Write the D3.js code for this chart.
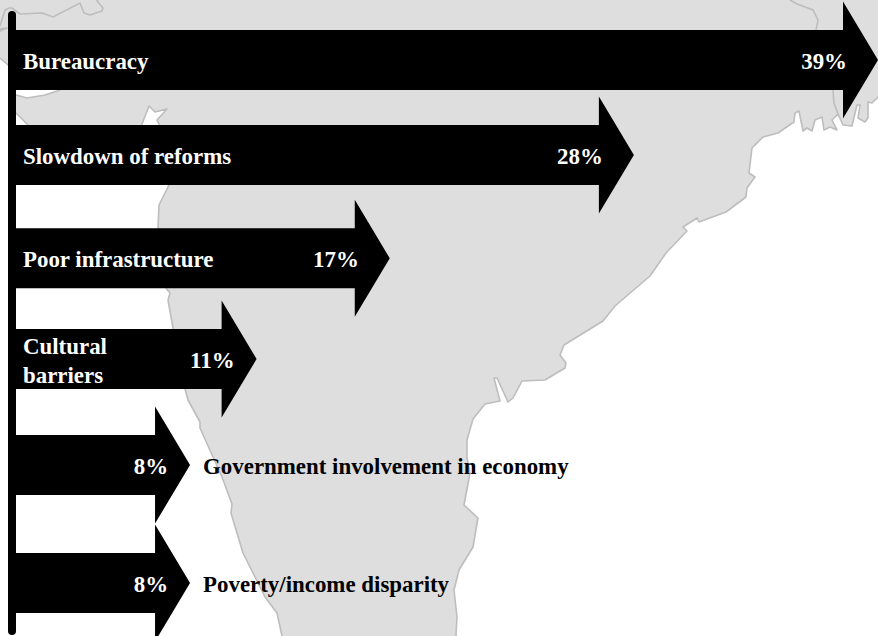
<!DOCTYPE html>
<html>
<head>
<meta charset="utf-8">
<script src="https://cdn.jsdelivr.net/npm/d3@7/dist/d3.min.js"></script>
<style>
  html, body { margin: 0; padding: 0; background: #fff; }
  svg { display: block; }
  text { font-family: "Liberation Serif", serif; font-weight: 700; font-size: 22.9px; }
</style>
</head>
<body>
<svg id="chart" width="878" height="636"></svg>
<script>
// Survey shares, largest first
const categories = [
  "Bureaucracy",
  "Slowdown of reforms",
  "Poor infrastructure",
  "Cultural barriers",
  "Government involvement in economy",
  "Poverty/income disparity"
];
const values = [39, 28, 17, 11, 8, 8];
const categoryLines = [
  ["Bureaucracy"],
  ["Slowdown of reforms"],
  ["Poor infrastructure"],
  ["Cultural", "barriers"],
  ["Government involvement in economy"],
  ["Poverty/income disparity"]
];

// Backdrop map of the subcontinent, outline in page units
const landOutline = [
  [-5,-5],[-5,30],[7,28],[-5,33.5],[-5,56],[0,58],[8,65],[30,80],[60,90],[45,95],[27,98],[16,95],
  [12,100],[12,108],[16,113],[29,126],[45,150],[100,175],[135,150],[142,124],[149,106],[155,112],
  [167,109],[157,120],[160,126],[165,150],[169,185],[159,205],[158,228],[166,288],[170,293],[168,300],
  [173,328],[185,389],[188,400],[200,422],[200,428],[222,477],[232,504],[231,513],[243,553],[265,597],
  [277,613],[282,636],[282,645],[456,645],[456,635],[457,617],[454,590],[459,570],[473,547],[478,518],
  [464,505],[470,473],[467,458],[467,440],[473,419],[485,404],[500,401],[494,378],[497,378],[508,402],
  [513,398],[522,381],[545,380],[565,368],[566,363],[560,355],[564,345],[603,321],[615,306],[650,276],
  [666,253],[687,231],[683,227],[697,218],[699,222],[726,212],[746,197],[747,188],[755,177],[749,173],
  [752,148],[763,137],[778,133],[794,122],[795,113],[799,111],[803,131],[807,128],[812,131],[815,120],
  [822,117],[824,130],[830,127],[837,130],[832,120],[838,114],[843,125],[852,126],[857,105],[860,105],
  [858,118],[865,122],[868,118],[868,102],[872,103],[878,97],[885,92],[885,-5]
];
const borderWest = [
  [0,26],[5,10],[9,8],[12,8],[20,14],[42,13],[53,17],[80,3],[84,13],[90,15],[102,11],[103,8],[97,1],[100,-3]
];
const borderEast = [
  [790,0],[797,4],[813,10],[818,20],[816,30],[833,90],[834,103],[838,114]
];

const ink = "#000";
const landFill = "#dedede";
const landStroke = "#bdbdbd";

const svg = d3.select("#chart");

// Horizontal scale runs from the spine to the arrow tip
const x = d3.scaleLinear().domain([0, 39]).range([12.5, 878]);
// Rows are spaced by hand rather than evenly
const y = d3.scaleOrdinal().domain(categories).range([60, 155, 258.3, 359, 465, 583]);

const shaftHalf = 30;
const headHalf = 58.5;
const headLength = 35;

const line = d3.line();

// Map layer
svg.append("path")
  .attr("d", line(landOutline) + "Z")
  .attr("fill", landFill)
  .attr("stroke", landStroke)
  .attr("stroke-width", 1.6)
  .attr("stroke-linejoin", "round");

svg.selectAll("path.border")
  .data([borderWest, borderEast])
  .join("path")
  .attr("class", "border")
  .attr("d", d => line(d))
  .attr("fill", "none")
  .attr("stroke", landStroke)
  .attr("stroke-width", 1.6);

const rows = categories.map((name, i) => ({
  name, value: values[i], lines: categoryLines[i]
}));

// One block arrow per category
svg.selectAll("path.arrow")
  .data(rows)
  .join("path")
  .attr("class", "arrow")
  .attr("fill", ink)
  .attr("d", d => {
    const tip = x(d.value), base = tip - headLength, c = y(d.name);
    return line([
      [x(0), c - shaftHalf], [base, c - shaftHalf], [base, c - headHalf],
      [tip, c], [base, c + headHalf], [base, c + shaftHalf], [x(0), c + shaftHalf]
    ]) + "Z";
  });

// Vertical spine with rounded ends
svg.append("line")
  .attr("x1", 12).attr("x2", 12)
  .attr("y1", 15).attr("y2", 631)
  .attr("stroke", ink)
  .attr("stroke-width", 8)
  .attr("stroke-linecap", "round");

const baselineShift = 9;

// Percentages sit inside the arrow
svg.selectAll("text.value")
  .data(rows)
  .join("text")
  .attr("class", "value")
  .attr("x", d => x(d.value) - (d.value >= 17 ? 31 : 22))
  .attr("y", d => y(d.name) + baselineShift)
  .attr("text-anchor", "end")
  .attr("fill", "#fff")
  .text(d => d.value + "%");

// Names go inside long arrows and beside short ones
const outsideBelow = 11;
svg.selectAll("text.name")
  .data(rows)
  .join("text")
  .attr("class", "name")
  .attr("x", d => d.value >= outsideBelow ? 23 : x(d.value) + 13)
  .attr("y", d => y(d.name) + baselineShift)
  .attr("fill", d => d.value >= outsideBelow ? "#fff" : ink)
  .each(function(d) {
    const t = d3.select(this);
    const el = t.attr("x");
    const lead = 29;
    const start = -(d.lines.length - 1) * lead / 2;
    d.lines.forEach((ln, i) => {
      t.append("tspan")
        .attr("x", el)
        .attr("dy", i === 0 ? start : lead)
        .text(ln);
    });
  });
</script>
</body>
</html>
